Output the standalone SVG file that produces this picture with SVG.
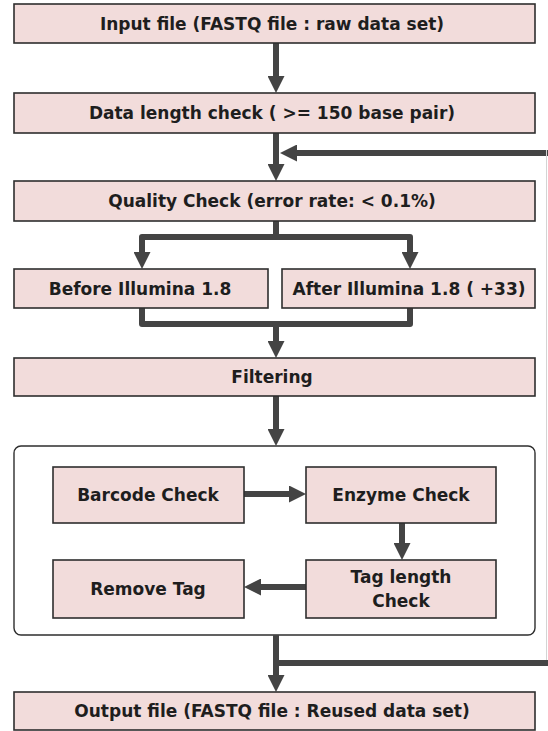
<svg xmlns="http://www.w3.org/2000/svg" width="548" height="731" viewBox="0 0 548 731">
<style>
.box{fill:#f2dcdb;stroke:#2e2e2e;stroke-width:1.6}
.cont{fill:#ffffff;stroke:#2e2e2e;stroke-width:1.4}
.t{font-family:"DejaVu Sans","Liberation Sans",sans-serif;font-weight:bold;font-size:17px;fill:#1e1e1e;text-anchor:middle;dominant-baseline:central}
.ln{fill:none;stroke:#444444;stroke-width:6;stroke-linejoin:round}
</style>
<defs>
<marker id="ah" markerUnits="userSpaceOnUse" viewBox="0 0 17 17" markerWidth="17" markerHeight="17" refX="2" refY="8.5" orient="auto">
<path d="M0,0 L17,8.5 L0,17 z" fill="#444444"/>
</marker>
</defs>
<rect width="548" height="731" fill="#ffffff"/>
<g id="container"><rect class="cont" x="14" y="446" width="521" height="189" rx="7"/></g>
<g id="connectors">
<path class="ln" d="M276,43 V78" marker-end="url(#ah)"/>
<path class="ln" d="M276,133 V166" marker-end="url(#ah)"/>
<path class="ln" d="M548,153 H295" marker-end="url(#ah)"/>
<line x1="546.5" y1="150" x2="546.5" y2="666" stroke="#d4d4d4" stroke-width="1"/>
<path class="ln" d="M276,221 V237 H142 V254" marker-end="url(#ah)"/>
<path class="ln" d="M276,237 H410 V254" marker-end="url(#ah)"/>
<path class="ln" d="M142,308 V324 H410 V308"/>
<path class="ln" d="M276,324 V343" marker-end="url(#ah)"/>
<path class="ln" d="M276,396 V431" marker-end="url(#ah)"/>
<path class="ln" d="M244,494 H291" marker-end="url(#ah)"/>
<path class="ln" d="M402,523 V545" marker-end="url(#ah)"/>
<path class="ln" d="M306,587 H259" marker-end="url(#ah)"/>
<path class="ln" d="M276,635 V677" marker-end="url(#ah)"/>
<path class="ln" d="M276,663 H548"/>
</g>
<g id="input"><rect class="box" x="14" y="4" width="521" height="39"/><text class="t" x="272" y="24">Input file (FASTQ file : raw data set)</text></g>
<g id="length"><rect class="box" x="14" y="93" width="521" height="40"/><text class="t" x="272" y="113">Data length check ( &gt;= 150 base pair)</text></g>
<g id="quality"><rect class="box" x="14" y="181" width="521" height="40"/><text class="t" x="272" y="201">Quality Check (error rate: &lt; 0.1%)</text></g>
<g id="before"><rect class="box" x="14" y="269" width="254" height="39"/><text class="t" x="140" y="289">Before Illumina 1.8</text></g>
<g id="after"><rect class="box" x="282" y="269" width="253" height="39"/><text class="t" x="409" y="289">After Illumina 1.8 ( +33)</text></g>
<g id="filtering"><rect class="box" x="14" y="358" width="521" height="38"/><text class="t" x="272" y="377">Filtering</text></g>
<g id="barcode"><rect class="box" x="53" y="467" width="191" height="56"/><text class="t" x="148" y="495">Barcode Check</text></g>
<g id="enzyme"><rect class="box" x="306" y="467" width="190" height="56"/><text class="t" x="401" y="495">Enzyme Check</text></g>
<g id="taglength"><rect class="box" x="306" y="560" width="190" height="58"/><text class="t" x="401" y="577">Tag length</text><text class="t" x="401" y="601">Check</text></g>
<g id="remove"><rect class="box" x="53" y="560" width="191" height="58"/><text class="t" x="148" y="589">Remove Tag</text></g>
<g id="output"><rect class="box" x="14" y="692" width="521" height="38"/><text class="t" x="272" y="711">Output file (FASTQ file : Reused data set)</text></g>
</svg>
